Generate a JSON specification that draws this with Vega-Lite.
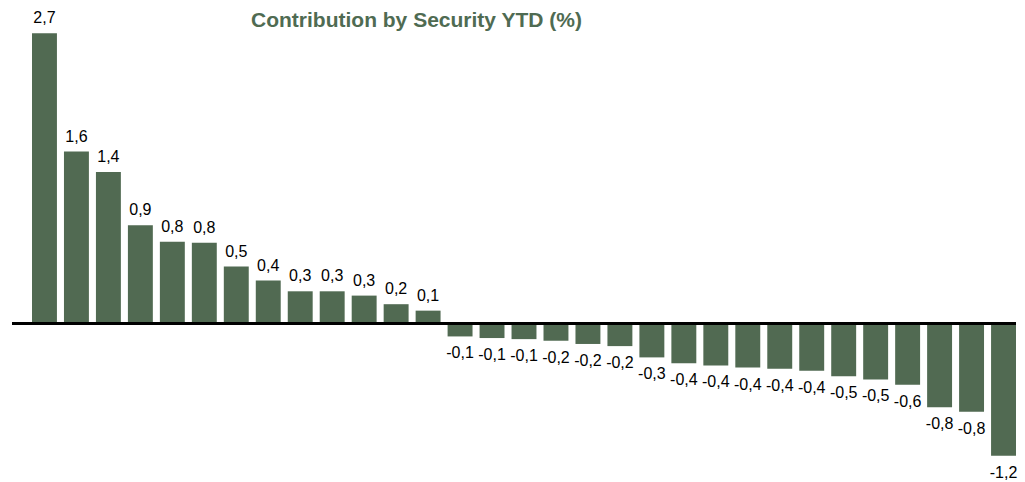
{
  "$schema": "https://vega.github.io/schema/vega-lite/v6.json",
  "width": 1004,
  "height": 446,
  "autosize": {"type": "none"},
  "padding": {"left": 12, "top": 28, "right": 9, "bottom": 8},
  "title": {
    "text": "Contribution by Security YTD (%)",
    "anchor": "start",
    "dx": 240,
    "dy": 38,
    "offset": 0,
    "baseline": "alphabetic",
    "fontSize": 21,
    "font": "Liberation Sans",
    "fontWeight": "bold",
    "color": "#4f6b52"
  },
  "config": {
    "view": {"stroke": null},
    "locale": {"number": {"decimal": ",", "thousands": ".", "grouping": [3], "currency": ["", " €"], "minus": "-"}}
  },
  "data": {
    "values": [
      {"id": 1, "v": 2.70}, {"id": 2, "v": 1.60}, {"id": 3, "v": 1.41}, {"id": 4, "v": 0.915},
      {"id": 5, "v": 0.76}, {"id": 6, "v": 0.752}, {"id": 7, "v": 0.53}, {"id": 8, "v": 0.40},
      {"id": 9, "v": 0.30}, {"id": 10, "v": 0.30}, {"id": 11, "v": 0.26}, {"id": 12, "v": 0.18},
      {"id": 13, "v": 0.12}, {"id": 14, "v": -0.12}, {"id": 15, "v": -0.135}, {"id": 16, "v": -0.145},
      {"id": 17, "v": -0.16}, {"id": 18, "v": -0.19}, {"id": 19, "v": -0.21}, {"id": 20, "v": -0.315},
      {"id": 21, "v": -0.37}, {"id": 22, "v": -0.39}, {"id": 23, "v": -0.41}, {"id": 24, "v": -0.42},
      {"id": 25, "v": -0.44}, {"id": 26, "v": -0.49}, {"id": 27, "v": -0.52}, {"id": 28, "v": -0.57},
      {"id": 29, "v": -0.78}, {"id": 30, "v": -0.82}, {"id": 31, "v": -1.23}
    ]
  },
  "encoding": {
    "x": {
      "field": "id",
      "type": "ordinal",
      "sort": null,
      "axis": null,
      "scale": {"range": [20, 1004], "paddingInner": 0.22, "paddingOuter": 0}
    }
  },
  "layer": [
    {
      "mark": {"type": "bar", "color": "#516a52"},
      "encoding": {
        "y": {"field": "v", "type": "quantitative", "axis": null, "scale": {"domain": [-1.4, 2.75], "nice": false, "zero": true}}
      }
    },
    {
      "transform": [{"filter": "datum.v >= 0"}],
      "mark": {"type": "text", "baseline": "bottom", "dy": -7, "fontSize": 16, "font": "Liberation Sans", "color": "#000000"},
      "encoding": {
        "y": {"field": "v", "type": "quantitative"},
        "text": {"field": "v", "type": "quantitative", "format": ".1f"}
      }
    },
    {
      "transform": [{"filter": "datum.v < 0"}],
      "mark": {"type": "text", "baseline": "top", "dy": 9, "fontSize": 16, "font": "Liberation Sans", "color": "#000000"},
      "encoding": {
        "y": {"field": "v", "type": "quantitative"},
        "text": {"field": "v", "type": "quantitative", "format": ".1f"}
      }
    },
    {
      "mark": {"type": "rule", "color": "#000000", "strokeWidth": 2},
      "encoding": {"y": {"datum": 0, "type": "quantitative"}, "x": {"value": 0}, "x2": {"value": 1004}}
    }
  ]
}
